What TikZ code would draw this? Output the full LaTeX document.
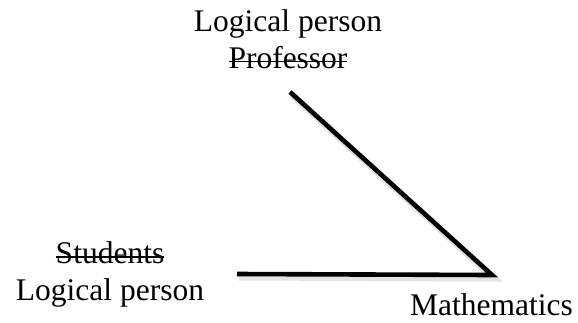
\documentclass[tikz,border=0pt]{standalone}
\usepackage{fontspec}
\setmainfont{Liberation Serif}
\usetikzlibrary{positioning}
\definecolor{linedraw}{HTML}{000000}
\definecolor{shadowdraw}{HTML}{C8C8C8}
\newcommand{\strikeword}[1]{\leavevmode\setbox0\hbox{#1}\rlap{\rule[0.19em]{\wd0}{1.4pt}}\box0}

\begin{document}
\begin{tikzpicture}[
    x=1pt, y=-1pt,
    font=\fontsize{31.5}{36.5}\selectfont,
    label/.style={inner sep=0pt, align=center},
    edge/.style={draw=linedraw, line width=4.6pt, line join=miter},
    shadow/.style={draw=shadowdraw, line width=7pt, opacity=0.5, line join=miter},
]
\useasboundingbox (0,0) rectangle (578,322);

% ---------------- Labels ----------------
\node[label, anchor=base] (prof) at (288,68) {Logical person\\\strikeword{Professor}};
\node[label, anchor=base] (stud) at (110,300) {\strikeword{Students}\\Logical person};
\node[label, anchor=base west] (math) at (410,315) {Mathematics};

% ---------------- Lines ----------------
\coordinate (ptop) at (290,92);
\coordinate (pmath) at (492,275);
\coordinate (pstud) at (237,274);

\draw[shadow] ([shift={(2,3)}]ptop) -- ([shift={(2,3)}]pmath) -- ([shift={(2,3)}]pstud);
\draw[edge] (ptop) -- (pmath) -- (pstud);

\end{tikzpicture}
\end{document}
